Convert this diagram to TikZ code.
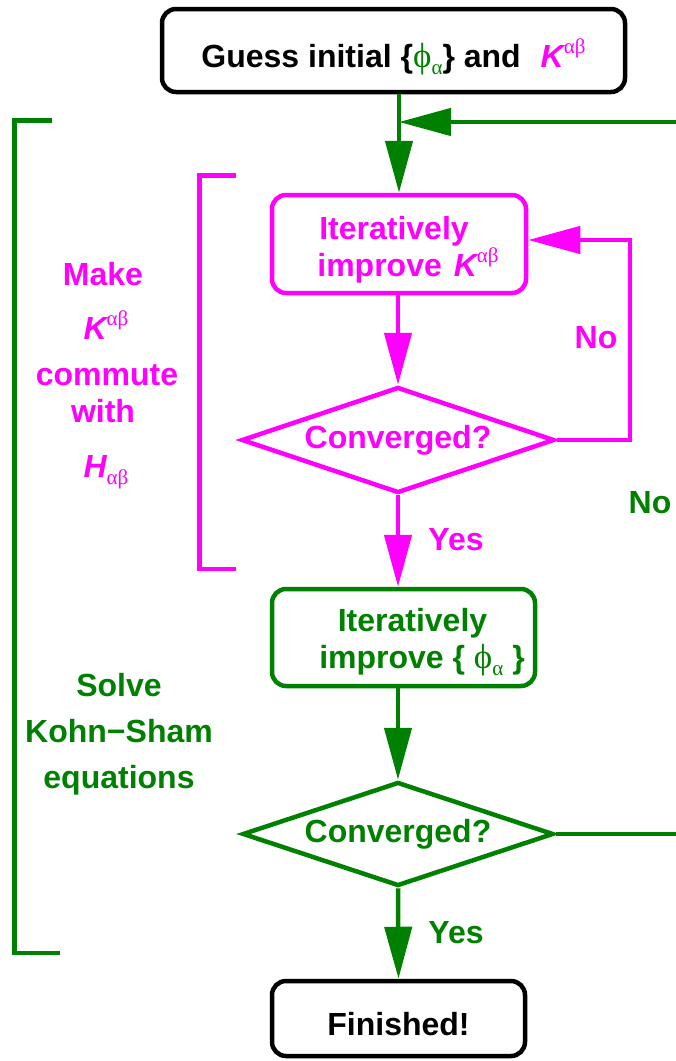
\documentclass[tikz,border=0pt]{standalone}
\usepackage{fontspec}
\setmainfont{Liberation Sans}
\newfontfamily\grk{Liberation Serif}
\usetikzlibrary{shapes.geometric,arrows.meta}
\definecolor{kgreen}{RGB}{0,128,0}
\definecolor{kmag}{RGB}{255,0,255}
\newcommand\gsub[1]{\raisebox{-7pt}{\grk\mdseries\upshape\fontsize{21}{21}\selectfont #1}}
\newcommand\gsup[1]{\raisebox{14pt}{\grk\mdseries\upshape\fontsize{21}{21}\selectfont #1}}
\newcommand\gphi{{\grk\mdseries\upshape\fontsize{35}{35}\selectfont ϕ}}
\newcommand\Kit{{\itshape K}}
\newcommand\Hit{{\itshape H}}
\tikzset{
  every node/.style={font=\bfseries\fontsize{32}{37}\selectfont, inner sep=0pt},
  box/.style={draw, rounded corners=14pt, line width=4.5pt, align=center},
  dia/.style={draw, diamond, aspect=3, line width=4.5pt},
  garr/.style={kgreen, line width=4.5pt, -{Triangle[length=52pt,width=27pt]}},
  marr/.style={kmag, line width=4.5pt, -{Triangle[length=52pt,width=27pt]}},
  gline/.style={kgreen, line width=4.5pt},
  mline/.style={kmag, line width=4.5pt},
}
\begin{document}
\begin{tikzpicture}[x=1pt,y=-1pt]
\useasboundingbox (0,0) rectangle (676,1061);
% boxes
\node[box, black, minimum width=463pt, minimum height=83pt, text height=36pt, text depth=3pt] (top) at (393.5,50.5)
  {Guess initial \{\textcolor{kgreen}{\gphi\gsub{α}}\} and\hspace{20pt}\textcolor{kmag}{\Kit\gsup{αβ}}};
\node[box, kmag, minimum width=254pt, minimum height=98pt] (mbox) at (399,244)
  {\rule{0pt}{34pt}Iteratively\hspace*{10pt}\\\hspace*{18pt}improve\hspace{12pt}\Kit\gsup{αβ}};
\node[dia, kmag, minimum width=313pt, minimum height=106pt] (mdia) at (398,440) {Converged?};
\node[box, kgreen, minimum width=263pt, minimum height=97pt] (gbox) at (403.5,637.5)
  {\rule{0pt}{33pt}\hspace*{18pt}Iteratively\\\hspace*{37pt}improve \{ \gphi\gsub{α} \}};
\node[dia, kgreen, minimum width=311pt, minimum height=104pt] (gdia) at (398,834) {Converged?};
\node[box, black, minimum width=253pt, minimum height=75pt, text height=33pt, text depth=0pt] (fin) at (398.5,1018.5) {Finished!};
% edge coordinates of the outer loop
\coordinate (gR) at (676,834);
\coordinate (gT) at (676,122);
% connectors
\draw[garr] (top.south -| mbox.north) -- (mbox.north);
\draw[garr] (gT) -- (gT -| mbox.north);
\draw[marr] (mbox.south -| mdia.north) -- (mdia.north);
\draw[marr] (mdia.east) -- (630,440) |- ([yshift=4pt]mbox.east);
\draw[marr] (mdia.south) -- (mdia.south |- gbox.north);
\draw[garr] (gdia.north |- gbox.south) -- (gdia.north);
\draw[gline] (gdia.east) -- (gR);
\draw[garr] (gdia.south) -- (fin.north);
% labels
\node[kmag, anchor=base] (mno) at (596,348) {No};
\node[kgreen, anchor=base] (gno) at (650,513) {No};
\node[kmag, anchor=base] (myes) at (456,550) {Yes};
\node[kgreen, anchor=base] (gyes) at (456,943) {Yes};
% brackets
\draw[gline] (52,120.5) -- (14.5,120.5) -- (14.5,953) -- (60,953);
\draw[mline] (236,175.5) -- (199.5,175.5) -- (199.5,569) -- (236,569);
% side texts
\node[kmag, anchor=base] (ml1) at (103,285) {Make};
\node[kmag, anchor=base] (ml2) at (106,339) {\Kit\gsup{αβ}};
\node[kmag, anchor=base] (ml3) at (107,385) {commute};
\node[kmag, anchor=base] (ml4) at (103,422) {with};
\node[kmag, anchor=base] (ml5) at (106,477) {\Hit\gsub{αβ}};
\node[kgreen, align=center, anchor=base, font=\bfseries\fontsize{32}{46}\selectfont] (gl) at (119,788) {Solve\\Kohn−Sham\\equations};
\end{tikzpicture}
\end{document}
